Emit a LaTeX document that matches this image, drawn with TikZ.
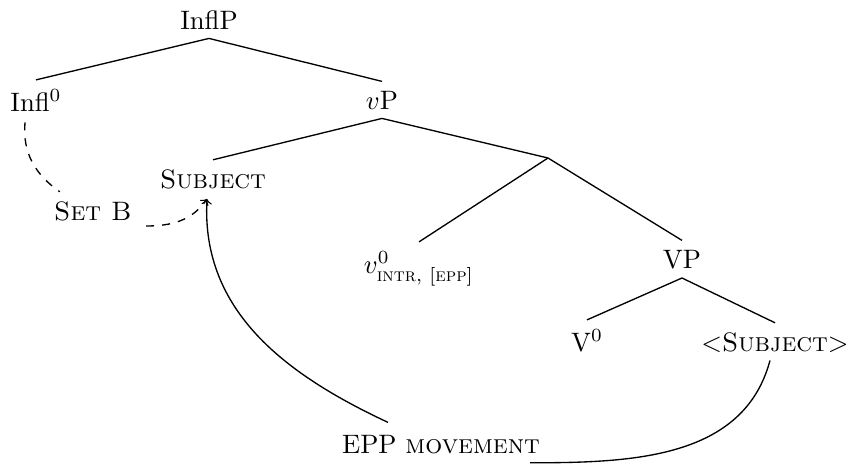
\documentclass[tikz,border=0pt]{standalone}
\usepackage{amsmath}
\usetikzlibrary{calc}
\begin{document}
\begin{tikzpicture}[x=0.375pt,y=-0.375pt,
  lab/.style={anchor=base,inner sep=3.33pt},
  edge/.style={draw,line width=0.5pt},
  link/.style={line width=0.5pt}]
\useasboundingbox (0,0) rectangle (847,464);
% tree nodes
\node[lab] (inflp) at (209,29) {InflP};
\node[lab] (infl) at (36,111) {Infl$^0$};
\node[lab] (vp) at (382,109) {$v$P};
\node[lab] (subj) at (213,188) {\textsc{Subject}};
\coordinate (bar) at (548,158);
\node[lab] (v0) at (419,273) {$v^0_{\text{\textsc{intr}, [\textsc{epp}]}}$};
\node[lab] (VP) at (682,268) {VP};
\node[lab] (V0) at (587,351) {V$^0$};
\node[lab] (subj2) at (775,351) {$<$\textsc{Subject}$>$};
% other labels
\node[lab] (setb) at (93,220) {\textsc{Set B}};
\node[lab] (epp) at (441,453) {EPP \textsc{movement}};
% edges
\draw[edge] (inflp.south) -- (infl.north);
\draw[edge] (inflp.south) -- (vp.north);
\draw[edge] (vp.south) -- (subj.north);
\draw[edge] (vp.south) -- (bar);
\draw[edge] (bar) -- (v0.north);
\draw[edge] (bar) -- (VP.north);
\draw[edge] (VP.south) -- (V0.north);
\draw[edge] (VP.south) -- (subj2.north);
% dashed links
\draw[link,dashed] ($(infl.south)+(-11,2)$) to[out=-95,in=145] ($(setb.north west)+(15,0)$);
\draw[link,dashed,->] ($(setb.south east)+(5,-4)$) to[out=0,in=-125] ($(subj.south)+(-6,1)$);
% movement
\draw[link,->] ($(epp.north)+(-53,-3)$) to[out=155,in=-93] ($(subj.south)+(-6,1)$);
\draw[link] ($(subj2.south)+(-5,-1)$) to[out=-105,in=0] ($(epp.south)+(89,0)$);
\end{tikzpicture}
\end{document}
